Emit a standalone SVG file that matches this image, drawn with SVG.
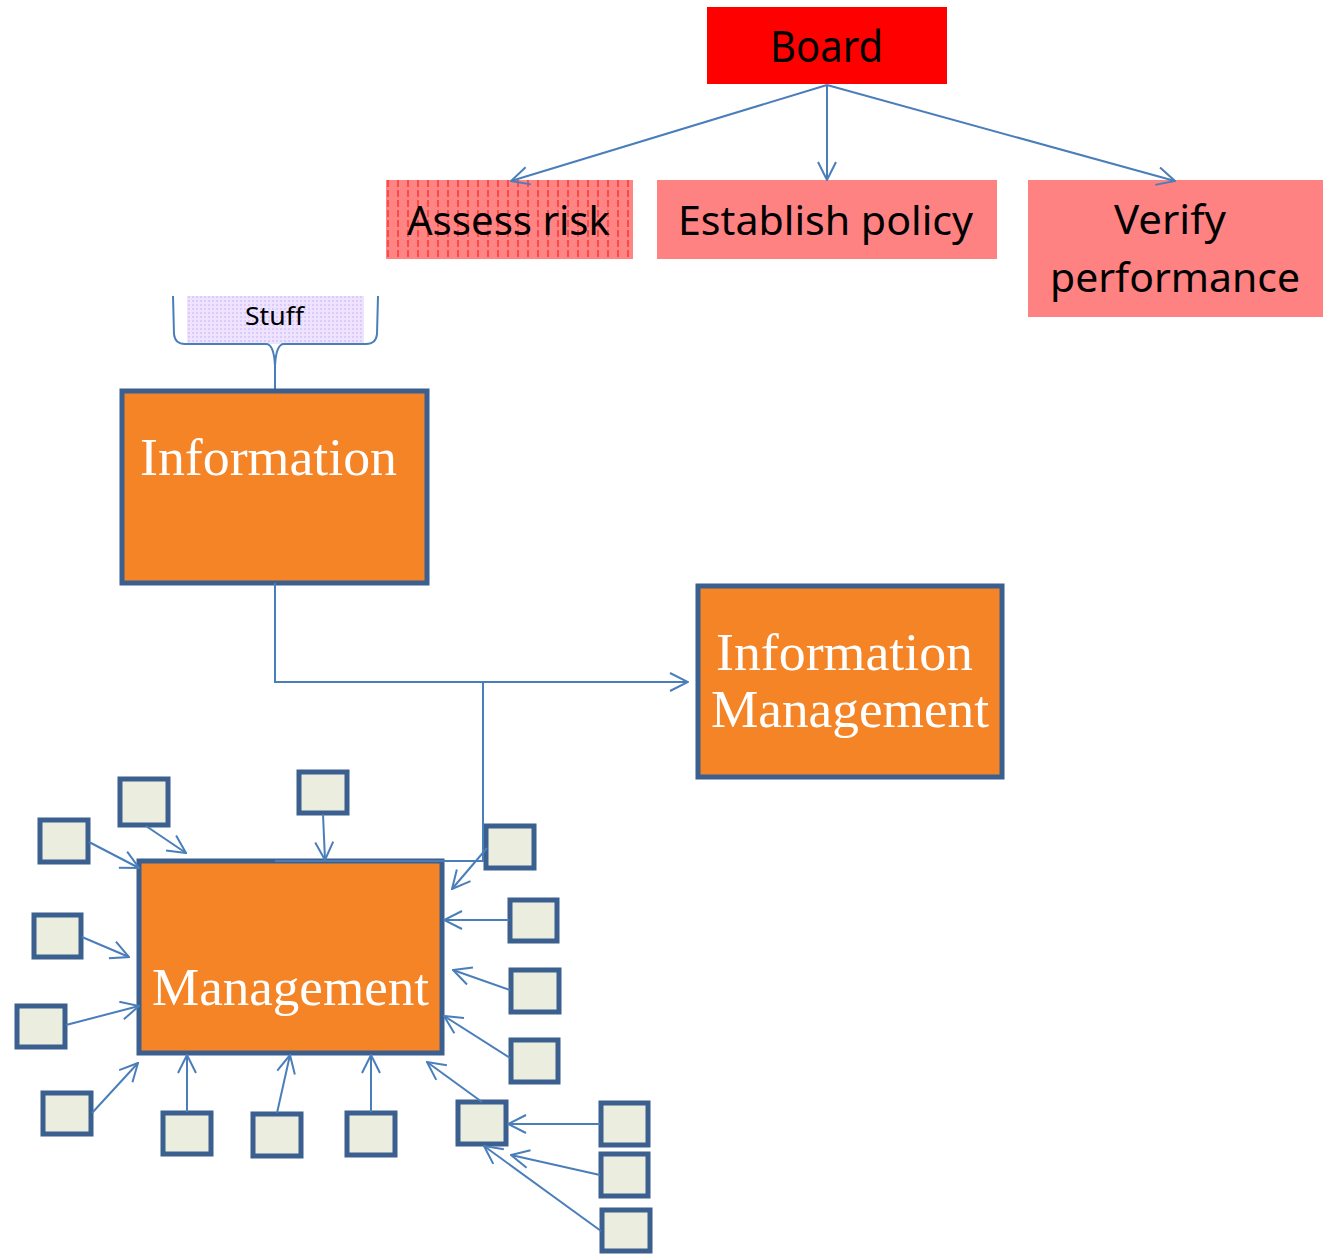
<svg xmlns="http://www.w3.org/2000/svg" width="1334" height="1254" viewBox="0 0 1334 1254">
  <style>
    .sans { font-family: "Noto Sans", "Open Sans", "Liberation Sans", sans-serif; fill: #000; }
    .serif { font-family: "Liberation Serif", "DejaVu Serif", serif; fill: #fff; }
    .orange { fill: #F58426; stroke: #3B5F8E; stroke-width: 5; }
    .small { fill: #EBEEDF; stroke: #3B5F8E; stroke-width: 5; }
    .conn { fill: none; stroke: #4A7EBB; stroke-width: 2; }
    .arr { marker-end: url(#open); }
  </style>
  <defs>
    <marker id="open" viewBox="0 0 20 20" refX="19" refY="10" markerWidth="20" markerHeight="20" markerUnits="userSpaceOnUse" orient="auto">
      <path d="M1,1 L19,10 L1,19" fill="none" stroke="#4A7EBB" stroke-width="2"/>
    </marker>
    <pattern id="hatch" width="10" height="10" patternUnits="userSpaceOnUse" x="387" y="180">
      <rect width="10" height="10" fill="#FF8585"/>
      <line x1="1" y1="0" x2="1" y2="7" stroke="#FF2828" stroke-width="1.3"/>
    </pattern>
    <pattern id="lilac" width="4" height="4" patternUnits="userSpaceOnUse">
      <rect width="4" height="4" fill="#EEE4FF"/>
      <rect width="2" height="2" fill="#DCCBFA"/>
    </pattern>
  </defs>

  <!-- governance tree -->
  <g id="board">
    <rect x="707" y="7" width="240" height="77" fill="#FF0000"/>
    <text class="sans" x="770" y="62" font-size="43" textLength="113" lengthAdjust="spacingAndGlyphs">Board</text>
  </g>
  <g id="assess-risk">
    <rect x="386" y="180" width="247" height="79" fill="url(#hatch)"/>
    <text class="sans" x="407" y="235" font-size="40" textLength="203" lengthAdjust="spacingAndGlyphs">Assess risk</text>
  </g>
  <g id="establish-policy">
    <rect x="657" y="180" width="340" height="79" fill="#FF8282"/>
    <text class="sans" x="678" y="235" font-size="40" textLength="295" lengthAdjust="spacingAndGlyphs">Establish policy</text>
  </g>
  <g id="verify-performance">
    <rect x="1028" y="180" width="295" height="137" fill="#FF8282"/>
    <text class="sans" x="1114" y="234" font-size="40" textLength="112" lengthAdjust="spacingAndGlyphs">Verify</text>
    <text class="sans" x="1050" y="292" font-size="40" textLength="250" lengthAdjust="spacingAndGlyphs">performance</text>
  </g>

  <!-- callout -->
  <g id="stuff">
    <rect x="187" y="296" width="177" height="48" fill="url(#lilac)"/>
    <path class="conn" d="M173,296 L174,334 Q175,344 185,344 L266,344 Q274,344 275,366 L275,390 M378,296 L377,334 Q376,344 366,344 L284,344 Q276,344 275,366"/>
    <text class="sans" x="245" y="325" font-size="26" textLength="59" lengthAdjust="spacingAndGlyphs">Stuff</text>
  </g>

  <!-- main blocks -->
  <g id="information">
    <rect class="orange" x="122" y="391" width="305" height="192"/>
    <text class="serif" x="140" y="475" font-size="52" textLength="257" lengthAdjust="spacingAndGlyphs">Information</text>
  </g>
  <g id="information-management">
    <rect class="orange" x="698" y="586" width="304" height="191"/>
    <text class="serif" x="716" y="670" font-size="52" textLength="257" lengthAdjust="spacingAndGlyphs">Information</text>
    <text class="serif" x="711" y="727" font-size="52" textLength="278" lengthAdjust="spacingAndGlyphs">Management</text>
  </g>
  <g id="management">
    <rect class="orange" x="139" y="861" width="303" height="192"/>
    <text class="serif" x="152" y="1005" font-size="52" textLength="277" lengthAdjust="spacingAndGlyphs">Management</text>
  </g>

  <!-- satellite boxes -->
  <g id="s1"><rect class="small" x="120" y="779" width="48" height="46"/></g>
  <g id="s2"><rect class="small" x="40" y="820" width="48" height="42"/></g>
  <g id="s3"><rect class="small" x="299" y="772" width="48" height="41"/></g>
  <g id="s4"><rect class="small" x="486" y="826" width="48" height="42"/></g>
  <g id="s5"><rect class="small" x="34" y="915" width="47" height="42"/></g>
  <g id="s6"><rect class="small" x="510" y="900" width="47" height="41"/></g>
  <g id="s7"><rect class="small" x="511" y="970" width="48" height="42"/></g>
  <g id="s8"><rect class="small" x="17" y="1006" width="48" height="41"/></g>
  <g id="s9"><rect class="small" x="511" y="1040" width="47" height="42"/></g>
  <g id="s10"><rect class="small" x="43" y="1093" width="48" height="41"/></g>
  <g id="s11"><rect class="small" x="163" y="1113" width="48" height="41"/></g>
  <g id="s12"><rect class="small" x="253" y="1114" width="48" height="42"/></g>
  <g id="s13"><rect class="small" x="347" y="1113" width="48" height="42"/></g>
  <g id="s14"><rect class="small" x="458" y="1102" width="48" height="42"/></g>
  <g id="s15"><rect class="small" x="601" y="1103" width="47" height="42"/></g>
  <g id="s16"><rect class="small" x="601" y="1154" width="47" height="42"/></g>
  <g id="s17"><rect class="small" x="602" y="1210" width="48" height="41"/></g>

  <!-- connectors -->
  <g id="connectors">
    <line class="conn arr" x1="827" y1="85" x2="511" y2="181"/>
    <line class="conn arr" x1="827" y1="85" x2="827" y2="180"/>
    <line class="conn arr" x1="827" y1="85" x2="1175" y2="181"/>

    <polyline class="conn arr" points="275,583 275,682 688,682"/>
    <polyline class="conn" points="483,682 483,861 275,861"/>

    <line class="conn arr" x1="146" y1="826" x2="186" y2="853"/>
    <line class="conn arr" x1="89" y1="842" x2="139" y2="868"/>
    <line class="conn arr" x1="323" y1="814" x2="325" y2="860"/>
    <line class="conn arr" x1="487" y1="848" x2="452" y2="889"/>
    <line class="conn arr" x1="82" y1="937" x2="129" y2="957"/>
    <line class="conn arr" x1="509" y1="920" x2="444" y2="920"/>
    <line class="conn arr" x1="510" y1="990" x2="453" y2="970"/>
    <line class="conn arr" x1="66" y1="1025" x2="139" y2="1006"/>
    <line class="conn arr" x1="510" y1="1058" x2="444" y2="1016"/>
    <line class="conn arr" x1="92" y1="1113" x2="138" y2="1063"/>
    <line class="conn arr" x1="187" y1="1112" x2="187" y2="1055"/>
    <line class="conn arr" x1="277" y1="1113" x2="290" y2="1055"/>
    <line class="conn arr" x1="371" y1="1112" x2="371" y2="1055"/>
    <line class="conn arr" x1="482" y1="1102" x2="427" y2="1062"/>
    <line class="conn arr" x1="600" y1="1124" x2="508" y2="1124"/>
    <line class="conn arr" x1="600" y1="1175" x2="511" y2="1155"/>
    <line class="conn arr" x1="601" y1="1231" x2="484" y2="1146"/>
  </g>
</svg>
